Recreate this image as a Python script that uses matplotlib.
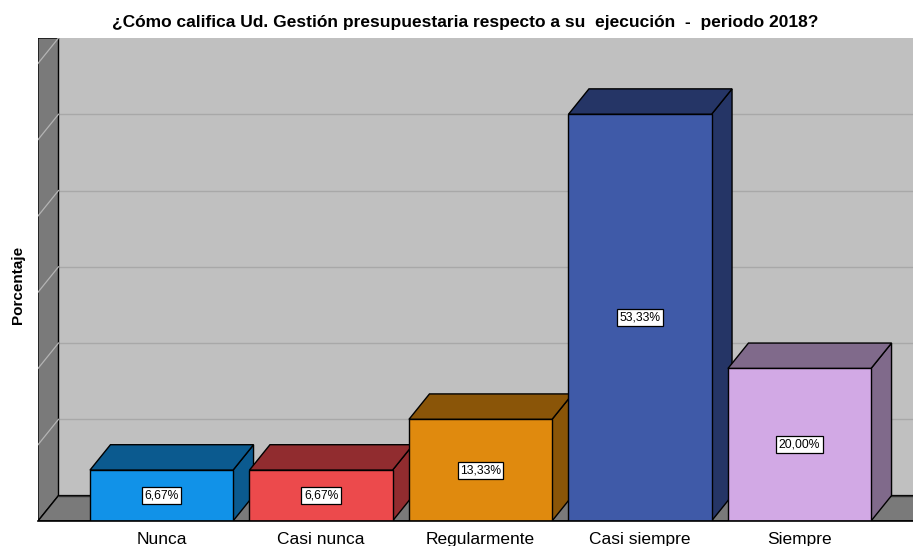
import matplotlib
matplotlib.use("Agg")
import matplotlib.pyplot as plt
from matplotlib.patches import Polygon

categories = ["Nunca", "Casi nunca", "Regularmente", "Casi siempre", "Siempre"]
values = [6.67, 6.67, 13.33, 53.33, 20.00]
value_labels = ["6,67%", "6,67%", "13,33%", "53,33%", "20,00%"]
front_colors = ["#1192E8", "#EC4A4C", "#E08A0E", "#3F5AA8", "#D2A9E5"]
dark_colors = ["#0B5A8F", "#912C2F", "#8A5508", "#253566", "#806A8B"]
grid_values = [10, 20, 30, 40, 50, 60]

W, H = 913, 546
fig = plt.figure(figsize=(W / 100, H / 100), dpi=100)

# geometry (pixel-derived)
px_per_cat = 159.5
px_per_pct = 7.65
c0_px = 161.5
left_px, right_px, bottom_px, top_px = 38, 913, 521, 38
dx = 20.5 / px_per_cat
dy = 25.5 / px_per_pct
bw = 0.897

ax = fig.add_axes([left_px / W, (H - bottom_px) / H, (right_px - left_px) / W, (bottom_px - top_px) / H])
xl = (left_px - c0_px) / px_per_cat
xr = (right_px - c0_px) / px_per_cat
ytop = 60 + dy
ax.set_xlim(xl, xr)
ax.set_ylim(0, ytop)
for s in ax.spines.values():
    s.set_visible(False)
ax.set_yticks([])

# back wall
ax.add_patch(Polygon([(xl + dx, dy), (xr + 1, dy), (xr + 1, ytop), (xl + dx, ytop)],
                     closed=True, facecolor="#C0C0C0", edgecolor="none", zorder=1))
for g in grid_values[:-1]:
    ax.plot([xl + dx, xr + 1], [g + dy, g + dy], color="#A8A8A8", lw=1.0, zorder=2)

# left wall
ax.add_patch(Polygon([(xl, 0), (xl + dx, dy), (xl + dx, ytop), (xl, ytop)],
                     closed=True, facecolor="#7A7A7A", edgecolor="black", lw=1.0, zorder=3))
for g in grid_values:
    ax.plot([xl, xl + dx], [g, g + dy], color="#B4B4B4", lw=0.9, zorder=4)

# floor
ax.add_patch(Polygon([(xl, 0), (xr + 1, 0), (xr + 1 + dx, dy), (xl + dx, dy)],
                     closed=True, facecolor="#7A7A7A", edgecolor="black", lw=1.0, zorder=3))
ax.plot([xl + dx, xr + 1], [dy, dy], color="#303030", lw=1.0, zorder=4)

# bars
for i, (v, fc, dc, lab) in enumerate(zip(values, front_colors, dark_colors, value_labels)):
    z = 10 + i
    x1, x2 = i - bw / 2, i + bw / 2
    side = [(x2, 0), (x2 + dx, dy), (x2 + dx, v + dy), (x2, v)]
    top = [(x1, v), (x1 + dx, v + dy), (x2 + dx, v + dy), (x2, v)]
    front = [(x1, 0), (x2, 0), (x2, v), (x1, v)]
    ax.add_patch(Polygon(side, closed=True, facecolor=dc, edgecolor="black", lw=1.0, zorder=z))
    ax.add_patch(Polygon(top, closed=True, facecolor=dc, edgecolor="black", lw=1.0, zorder=z))
    ax.add_patch(Polygon(front, closed=True, facecolor=fc, edgecolor="black", lw=1.0, zorder=z))
    ax.text(i, v / 2, lab, ha="center", va="center", fontsize=8.7, color="black",
            family=["Liberation Sans", "DejaVu Sans"], zorder=30,
            bbox=dict(boxstyle="square,pad=0.2", facecolor="white", edgecolor="black", lw=0.9))

ax.plot([xl, xr + 1], [0, 0], color="black", lw=1.2, zorder=25, clip_on=False)

ax.set_xticks(range(len(categories)))
ax.set_xticklabels(categories, fontsize=12.5, family=["Liberation Sans", "DejaVu Sans"])
ax.tick_params(axis="x", length=0, pad=8)

fig.text(465 / W, 1 - 22 / H, "¿Cómo califica Ud. Gestión presupuestaria respecto a su  ejecución  -  periodo 2018?",
         ha="center", va="center", fontsize=12.5, fontweight="bold",
         family=["Liberation Sans", "DejaVu Sans"])
fig.text(18 / W, 1 - 285 / H, "Porcentaje", ha="center", va="center", rotation=90,
         fontsize=11, fontweight="bold", family=["Liberation Sans", "DejaVu Sans"])

fig.savefig("out.png", dpi=100, facecolor="white")
